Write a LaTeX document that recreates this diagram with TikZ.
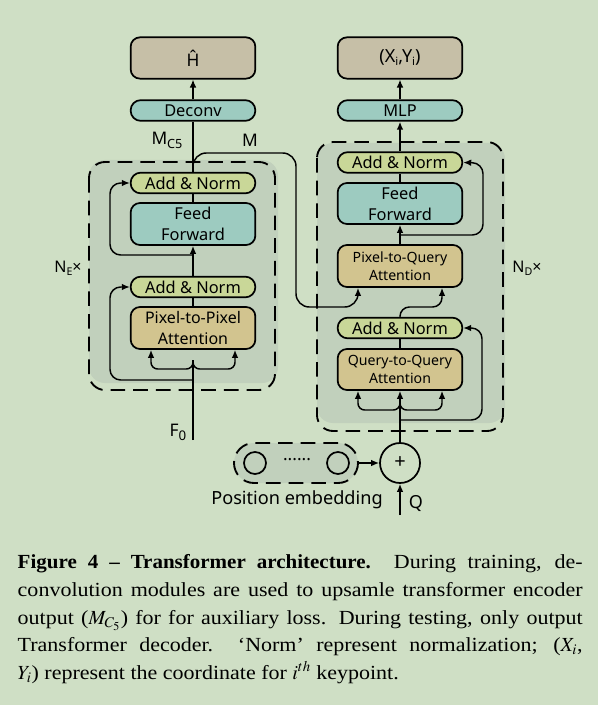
\documentclass[tikz,border=0pt]{standalone}
\usepackage{mathptmx}
\usepackage{fontspec}
\setmainfont{Liberation Serif}
\newfontfamily\capfont{Liberation Serif}[FakeStretch=1.1]
\newfontfamily\capboldfont{Liberation Serif}[FakeStretch=1.05]
\newfontfamily\diagfont{Noto Sans}
\usetikzlibrary{arrows.meta,calc}
\definecolor{bgcol}{RGB}{207,223,197}
\definecolor{panelcol}{RGB}{193,208,188}
\definecolor{outcol}{RGB}{198,191,167}
\definecolor{tealcol}{RGB}{157,203,192}
\definecolor{addcol}{RGB}{201,215,152}
\definecolor{attcol}{RGB}{210,196,143}

\begin{document}
\begin{tikzpicture}[x=0.75pt,y=-0.75pt,line width=1.1pt,>={Latex[length=6pt,width=5pt]},
  blk/.style={draw,line width=1.3pt,rounded corners=7pt,minimum width=93.5pt,inner sep=0pt,align=center,font=\diagfont\fontsize{12.3}{15.7}\selectfont},
  pillblk/.style={blk,rounded corners=7.5pt,minimum height=15.5pt},
  twoblk/.style={blk,minimum height=31.5pt},
  attblk/.style={twoblk,fill=attcol,font=\diagfont\fontsize{10.6}{13.5}\selectfont},
  dashpanel/.style={line width=1.4pt,dash pattern=on 11pt off 6pt},
  lab/.style={font=\diagfont\fontsize{12}{14}\selectfont,inner sep=0pt}]
\useasboundingbox (0,0) rectangle (598,705);
\fill[bgcol] (0,0) rectangle (598,705);
% panels
\fill[panelcol,rounded corners=12pt] (89,160) rectangle (278,383);
\draw[dashpanel,rounded corners=12pt] (89,162) rectangle (275,390);
\fill[panelcol,rounded corners=12pt] (317,143) rectangle (505,423);
\draw[dashpanel,rounded corners=12pt] (317,142) rectangle (503,431);
% encoder
\node[blk,fill=outcol,minimum height=31pt,font=\diagfont\fontsize{13}{14}\selectfont] (hhat) at (193,58) {Ĥ};
\node[pillblk,fill=tealcol] (deconv) at (193,110.5) {Deconv};
\node[pillblk,fill=addcol] (eadd2) at (193,183) {Add \& Norm};
\node[twoblk,fill=tealcol] (eff) at (193,224) {Feed\\Forward};
\node[pillblk,fill=addcol] (eadd1) at (193,287) {Add \& Norm};
\node[attblk,font=\diagfont\fontsize{12}{15.7}\selectfont] (epp) at (193,328) {Pixel-to-Pixel\\Attention};
% decoder
\node[blk,fill=outcol,minimum height=31pt,font=\diagfont\fontsize{13.5}{14}\selectfont] (xy) at (400,58) {(X\raisebox{-2pt}{\fontsize{8.5}{8}\selectfont i},Y\raisebox{-2pt}{\fontsize{8.5}{8}\selectfont i})};
\node[pillblk,fill=tealcol] (mlp) at (400,110.5) {MLP};
\node[pillblk,fill=addcol] (dadd2) at (400,162.5) {Add \& Norm};
\node[twoblk,fill=tealcol,minimum height=30.75pt] (dff) at (400,203.5) {Feed\\Forward};
\node[attblk] (dpq) at (400,266) {Pixel-to-Query\\Attention};
\node[pillblk,fill=addcol] (dadd1) at (400,328) {Add \& Norm};
\node[attblk,minimum height=30.75pt] (dqq) at (400,369.5) {Query-to-Query\\Attention};
\node[circle,draw,line width=1.3pt,minimum size=30pt,inner sep=0pt,font=\diagfont\fontsize{15}{15}\selectfont] (plus) at (400,463) {+};
\node[draw,fill=panelcol,dashpanel,rounded corners=15pt,minimum width=93pt,minimum height=30pt] (pos) at (296,463) {};
\node[circle,draw,line width=1.3pt,minimum size=16.5pt,inner sep=0pt] (pe1) at (255,463) {};
\node[circle,draw,line width=1.3pt,minimum size=16.5pt,inner sep=0pt] (pe2) at (338,463) {};
\node[lab,font=\diagfont\fontsize{13}{14}\selectfont] (dots) at (297,460) {......};
% labels
\node[lab,font=\diagfont\fontsize{13}{14}\selectfont] (mc5) at (167,140) {M\raisebox{-3pt}{\fontsize{9.5}{10}\selectfont C5}};
\node[lab,font=\diagfont\fontsize{13}{14}\selectfont] (mlab) at (250,140) {M};
\node[lab] (ne) at (68,268) {N\raisebox{-2pt}{\fontsize{8}{8}\selectfont E}×};
\node[lab] (nd) at (527,268) {N\raisebox{-2pt}{\fontsize{8}{8}\selectfont D}×};
\node[lab,font=\diagfont\fontsize{13}{14}\selectfont] (f0lab) at (178,432) {F\raisebox{-3pt}{\fontsize{10}{10}\selectfont 0}};
\node[lab,font=\diagfont\fontsize{13.5}{14}\selectfont] (qlab) at (416,504) {Q};
\node[lab,font=\diagfont\fontsize{13.6}{14}\selectfont] (poslab) at (297,500) {Position embedding};
% encoder connectors
\coordinate (f0) at (193,440);
\draw (f0) -- (193,360);
\draw[->,rounded corners=5pt] (193,360) |- (170,369) -| ($(epp.south)+(-42,0)$);
\draw[->,rounded corners=5pt] (193,360) |- (215,369) -| ($(epp.south)+(42,0)$);
\draw[->,rounded corners=8pt] (193,380) -| (110,287) -- (eadd1.west);
\draw (epp.north) -- (eadd1.south);
\draw[->] (eadd1.north) -- (eff.south);
\draw[->,rounded corners=8pt] (193,255) -| (110,183) -- (eadd2.west);
\draw (eff.north) -- (eadd2.south);
\draw (eadd2.north) -- (deconv.south);
\draw[->] (deconv) -- (hhat);
\draw[->,rounded corners=10pt] (eadd2.north) |- (296,153) -- (296,307) -| ($(dpq.south)+(-42,0)$);
% decoder connectors
\coordinate (q) at (400,515);
\draw[->] (q) -- (plus.south);
\draw[->] (pos.east) -- (plus.west);
\draw[->] (plus.north) -- (dqq.south);
\draw[->,rounded corners=5pt] (400,401) |- (380,410) -| ($(dqq.south)+(-42,0)$);
\draw[->,rounded corners=5pt] (400,401) |- (420,410) -| ($(dqq.south)+(42,0)$);
\draw[->,rounded corners=8pt] (400,420) -| (482,328) -- (dadd1.east);
\draw (dqq.north) -- (dadd1.south);
\draw[->,rounded corners=7pt] (dadd1.north) |- (420,307) -| ($(dpq.south)+(42,0)$);
\draw[->] (dpq.north) -- (dff.south);
\draw[->,rounded corners=8pt] (400,235) -| (483,163) -- (dadd2.east);
\draw (dff.north) -- (dadd2.south);
\draw[->] (dadd2) -- (mlp);
\draw[->] (mlp) -- (xy);
% caption
\node[anchor=north west,text width=423.75pt,align=justify,inner sep=0pt,font=\capfont\fontsize{15}{20.7}\selectfont] (cap) at (17,554)
  {{\capboldfont\bfseries Figure 4 – Transformer architecture.}\ \ During training, de-\linebreak
   convolution modules are used to upsamle transformer encoder\linebreak
   output ($M_{C_5}$) for for auxiliary loss. During testing, only output\linebreak
   Transformer decoder.\ \ ‘Norm’ represent normalization; ($X_i$,\linebreak
   $Y_i$) represent the coordinate for $i^{th}$ keypoint.};
\end{tikzpicture}
\end{document}
